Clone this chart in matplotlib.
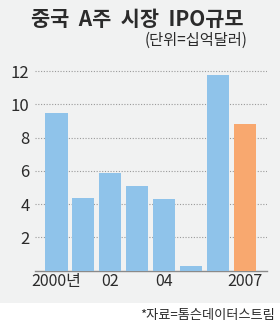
import matplotlib
matplotlib.use("Agg")
import matplotlib.pyplot as plt
from matplotlib.patches import Rectangle

# data
years = ["2000", "2001", "2002", "2003", "2004", "2005", "2006", "2007"]
ipo_size = [9.5, 4.4, 5.85, 5.1, 4.3, 0.3, 11.75, 8.85]
bar_colors = ["#8fc3ea"] * 7 + ["#f8a86f"]
xtick_pos = [0, 2, 4, 7]
xtick_labels = ["2000년", "02", "04", "2007"]
yticks = [2, 4, 6, 8, 10, 12]

KR = ["Noto Sans CJK KR", "DejaVu Sans"]
NUM = ["Liberation Sans Narrow", "Noto Sans CJK KR", "DejaVu Sans"]
BG = "#f1f2f2"
TXT = "#2b2b2b"

fig = plt.figure(figsize=(2.8, 3.25), dpi=100)
fig.patch.set_facecolor("white")
# grey panel behind everything down to the source line
fig.patches.append(Rectangle((0, 22 / 325), 1, 1, transform=fig.transFigure,
                             facecolor=BG, edgecolor="none", zorder=-10))

ax = fig.add_axes([35 / 280, (325 - 270.7) / 325, 232 / 280, 207.9 / 325])
ax.set_facecolor("none")

x = list(range(len(years)))
ax.bar(x, ipo_size, width=0.82, color=bar_colors, zorder=3)

ax.set_xlim(-0.8, 7.83)
ax.set_ylim(0, 12.5)
ax.set_yticks(yticks)
ax.set_yticklabels([str(v) for v in yticks], family=NUM, fontsize=12, color=TXT)
ax.set_xticks(xtick_pos)
ax.set_xticklabels(xtick_labels, family=NUM, fontsize=11.5, color=TXT)
ax.tick_params(length=0, pad=4)
ax.tick_params(axis="x", pad=2)

ax.grid(axis="y", linestyle=(0, (1, 1.5)), color="#9a9a9a", linewidth=0.8, zorder=1)
for s in ["top", "right", "left"]:
    ax.spines[s].set_visible(False)
ax.spines["bottom"].set_color("#8a8a8a")
ax.spines["bottom"].set_linewidth(1.0)

fig.text(137 / 280, 1 - 19 / 325, "중국  A주  시장  IPO규모", family=KR, fontsize=15,
         fontweight="bold", color=TXT, ha="center", va="center")
fig.text(247 / 280, 1 - 40 / 325, "(단위=십억달러)", family=KR, fontsize=11,
         color=TXT, ha="right", va="center")
fig.text(275 / 280, 1 - 315 / 325, "*자료=톰슨데이터스트림", family=KR, fontsize=9.5,
         color=TXT, ha="right", va="center")

fig.savefig("out.png", dpi=100, facecolor=fig.get_facecolor())
